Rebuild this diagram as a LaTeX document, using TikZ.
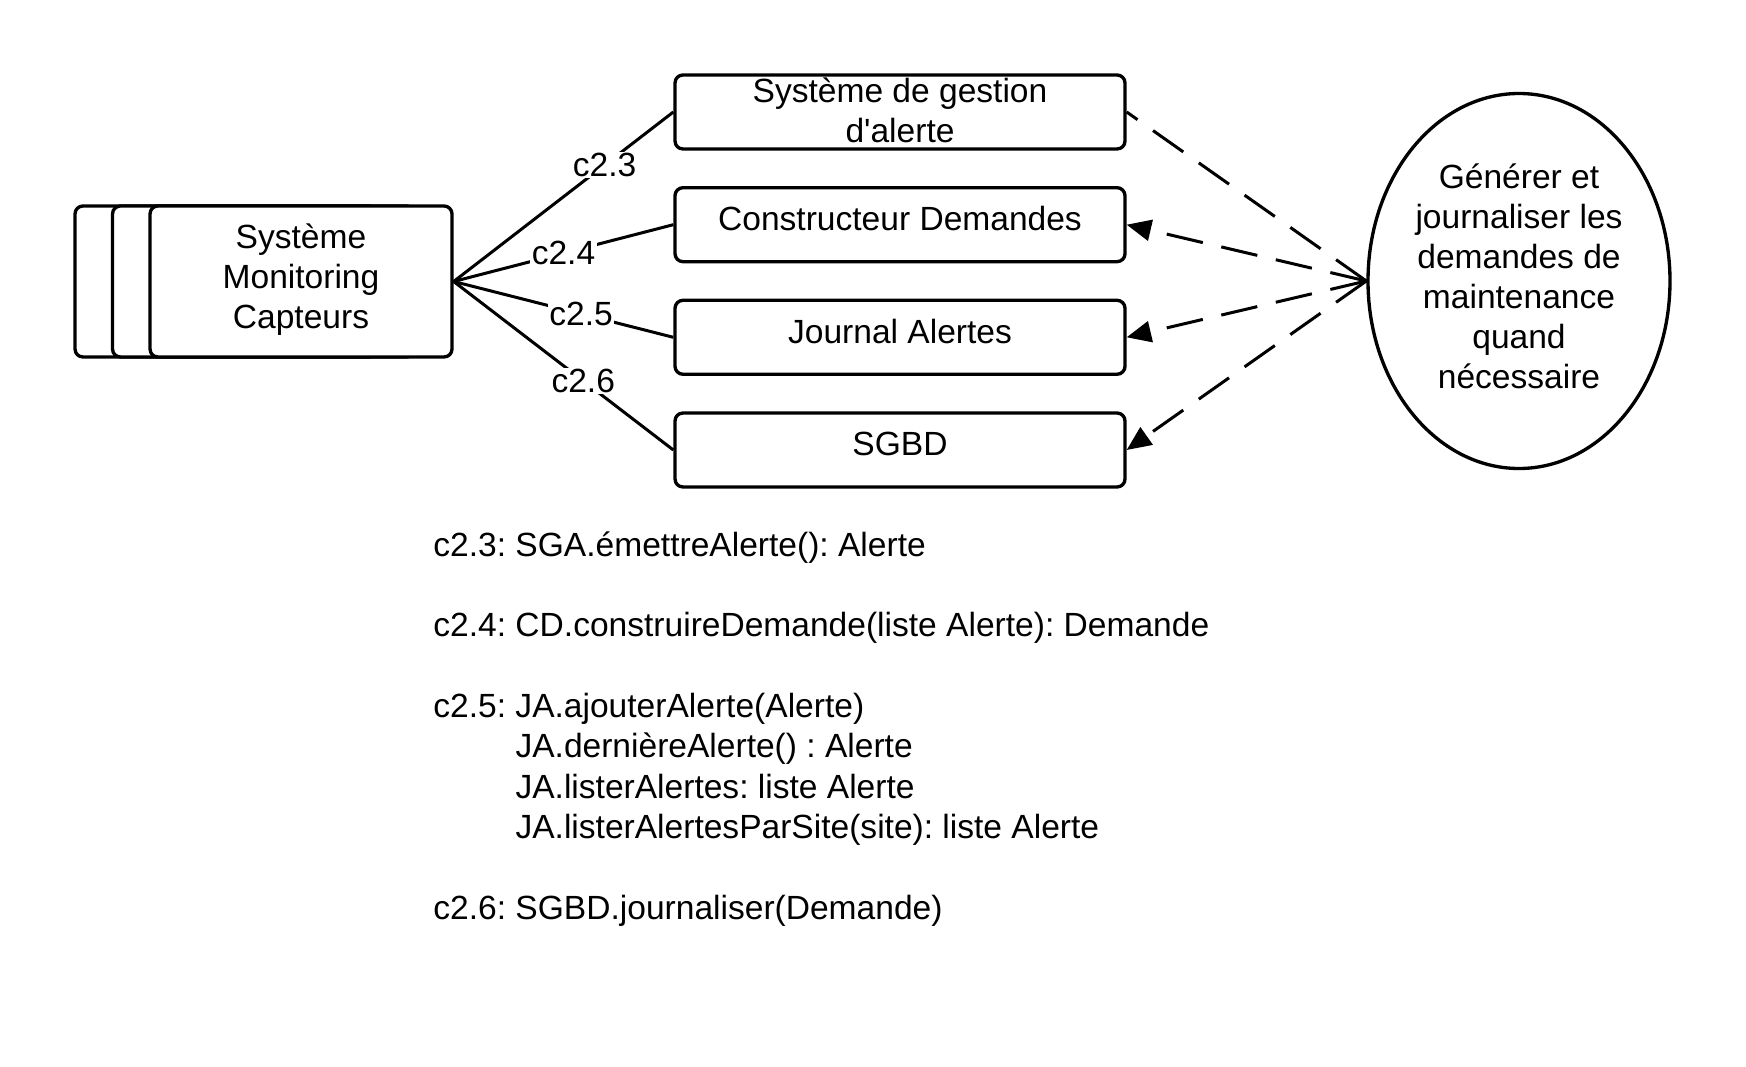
\documentclass[tikz,border=0pt]{standalone}
\usepackage{fontspec}
\setmainfont{Liberation Sans}
\frenchspacing
\usetikzlibrary{arrows.meta,shapes.geometric}
\begin{document}
\frenchspacing
\begin{tikzpicture}[x=0.45pt,y=-0.45pt,
  every node/.style={font=\fontsize{15.1pt}{18pt}\selectfont\frenchspacing},
  box/.style={draw, line width=1.5pt, rounded corners=3.6pt, minimum width=202.5pt,
    minimum height=33.3pt, inner sep=0pt, align=center, fill=white},
  single/.style={text height=0.80em, text depth=0.28em},
  stackbox/.style={draw, line width=1.5pt, rounded corners=3.6pt, minimum width=135.9pt,
    minimum height=67.95pt, fill=white, inner sep=0pt, align=center},
  usecase/.style={draw, ellipse, line width=1.5pt, minimum width=135.9pt,
    minimum height=168.75pt, inner sep=0pt, align=center, text depth=4.6pt},
  link/.style={line width=1.35pt},
  msg/.style={line width=1.35pt, dash pattern=on 16.65pt off 8.55pt},
  lab/.style={fill=white, inner sep=0.6pt},
  tip/.style={-{Triangle[length=11pt,width=9.5pt]}},
  notestyle/.style={anchor=base west, inner sep=0pt, align=left,
    font=\fontsize{15.1pt}{18.15pt}\selectfont\frenchspacing}
]
\useasboundingbox (0,0) rectangle (1746,1067);
% stacked multi-object
\node[stackbox] (s3) at (226,281.5) {};
\node[stackbox] (s2) at (263.5,281.5) {};
\node[stackbox, text depth=5.2pt] (s1) at (301,281.5) {Système\\Monitoring\\Capteurs};
% objects
\node[box, text depth=1.4pt] (sga) at (900,112) {Système de gestion\\d\textquotesingle alerte};
\node[box,single] (cd) at (900,224.7) {Constructeur Demandes};
\node[box,single] (ja) at (900,337.3) {Journal Alertes};
\node[box,single] (db) at (900,450) {SGBD};
% use case
\node[usecase] (uc) at (1519,281) {Générer et\\journaliser les\\demandes de\\maintenance\\quand\\nécessaire};
% links
\draw[link] (s1.east) -- node[lab,pos=0.687]{c2.3} (sga.west);
\draw[link] (s1.east) -- node[lab,pos=0.5]{c2.4} (cd.west);
\draw[link] (s1.east) -- node[lab,pos=0.58]{c2.5} (ja.west);
\draw[link] (s1.east) -- node[lab,pos=0.59]{c2.6} (db.west);
% dashed messages
\draw[msg] (uc.west) -- (sga.east);
\draw[msg,tip] (uc.west) -- (cd.east);
\draw[msg,tip] (uc.west) -- (ja.east);
\draw[msg,tip] (uc.west) -- (db.east);
% notes (base anchor = baseline of the last line)
\node[notestyle] (notes) at (433,919)
{c2.3: SGA.émettreAlerte(): Alerte\\[18.15pt]
c2.4: CD.construireDemande(liste Alerte): Demande\\[18.15pt]
c2.5: JA.ajouterAlerte(Alerte)\\
\phantom{c2.5: }JA.dernièreAlerte() : Alerte\\
\phantom{c2.5: }JA.listerAlertes: liste Alerte\\
\phantom{c2.5: }JA.listerAlertesParSite(site): liste Alerte\\[18.15pt]
c2.6: SGBD.journaliser(Demande)};
\end{tikzpicture}
\end{document}
